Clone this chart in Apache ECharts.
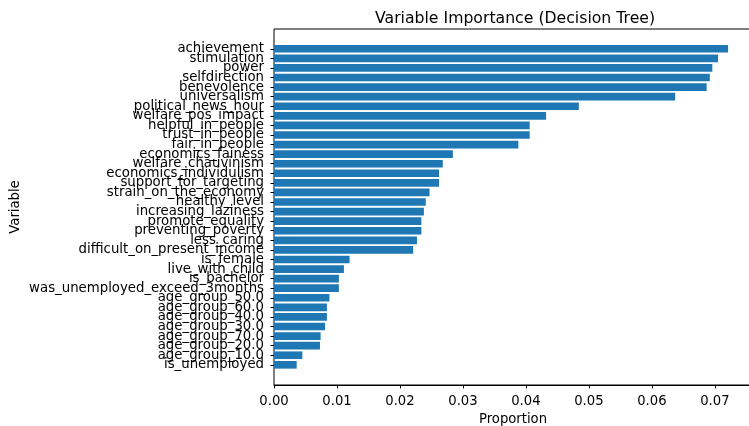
<!DOCTYPE html>
<html>
<head>
<meta charset="utf-8">
<script src="https://cdn.jsdelivr.net/npm/echarts@6/dist/echarts.min.js"></script>
<style>
  html, body { margin: 0; padding: 0; background: #fff; }
  #chart { width: 749px; height: 426px; }
</style>
</head>
<body>
<div id="chart"></div>
<script>
// feature names, top to bottom
const variables = [
  'achievement', 'stimulation', 'power', 'selfdirection', 'benevolence',
  'universalism', 'political_news_hour', 'welfare_pos_impact', 'helpful_in_people',
  'trust_in_people', 'fair_in_people', 'economics_fainess', 'welfare_chauvinism',
  'economics_individulism', 'support_for_targeting', 'strain_on_the_economy',
  'healthy_level', 'increasing_laziness', 'promote_equality', 'preventing_poverty',
  'less_caring', 'difficult_on_present_income', 'is_female', 'live_with_child',
  'is_bachelor', 'was_unemployed_exceed_3months', 'age_group_50.0', 'age_group_60.0',
  'age_group_40.0', 'age_group_30.0', 'age_group_70.0', 'age_group_20.0',
  'age_group_10.0', 'is_unemployed'
];

const importance = [
  0.0721, 0.0705, 0.0696, 0.0692, 0.0687,
  0.0637, 0.0484, 0.0432, 0.0406,
  0.0406, 0.0388, 0.0284, 0.0268,
  0.0262, 0.0262, 0.0247,
  0.0241, 0.0238, 0.0234, 0.0234,
  0.0227, 0.0221, 0.0120, 0.0111,
  0.0103, 0.0103, 0.0088, 0.0084,
  0.0084, 0.0081, 0.0074, 0.0073,
  0.0045, 0.0036
];

const xTicks = [0, 0.01, 0.02, 0.03, 0.04, 0.05, 0.06, 0.07];

const FONT = 'DejaVu Sans';
const xMax = 0.0759;

const chart = echarts.init(document.getElementById('chart'));
chart.setOption({
  animation: false,
  backgroundColor: '#fff',
  title: {
    text: 'Variable Importance (Decision Tree)',
    left: 370,
    top: 6,
    textStyle: { fontFamily: FONT, fontSize: 15.7, fontWeight: 'normal', color: '#000' }
  },
  grid: [
    // axes frame
    { left: 274, right: -3, top: 29, bottom: 41, outerBoundsMode: 'none', show: true, borderColor: '#000', borderWidth: 1, backgroundColor: 'transparent' },
    // bar area (matplotlib leaves a 5% margin above and below the bars)
    { left: 274, right: -3, top: 44, bottom: 56.4, outerBoundsMode: 'none' }
  ],
  xAxis: [
    {
      gridIndex: 0,
      type: 'value',
      min: 0,
      max: xMax,
      interval: 0.01,
      name: 'Proportion',
      nameLocation: 'middle',
      nameGap: 28,
      nameTextStyle: { fontFamily: FONT, fontSize: 13.2, color: '#000' },
      splitLine: { show: false },
      axisLine: { show: true, lineStyle: { color: '#000', width: 1 } },
      axisTick: { show: true, length: 3.5, lineStyle: { color: '#000' } },
      axisLabel: {
        fontFamily: FONT, fontSize: 13.2, color: '#000', margin: 10,
        showMaxLabel: false,
        formatter: v => (xTicks.some(t => Math.abs(t - v) < 1e-9) ? v.toFixed(2) : '')
      }
    },
    {
      gridIndex: 1,
      type: 'value',
      min: 0,
      max: xMax,
      show: false
    }
  ],
  yAxis: [
    {
      // carries only the axis title
      gridIndex: 0,
      type: 'value',
      name: 'Variable',
      nameLocation: 'middle',
      nameGap: 252,
      nameTextStyle: { fontFamily: FONT, fontSize: 13.2, color: '#000' },
      axisLine: { show: false },
      axisTick: { show: false },
      axisLabel: { show: false },
      splitLine: { show: false }
    },
    {
      gridIndex: 1,
      type: 'category',
      inverse: true,
      data: variables,
      axisLine: { show: false },
      axisTick: { show: true, alignWithLabel: true, length: 3.5, lineStyle: { color: '#000' } },
      axisLabel: { fontFamily: FONT, fontSize: 13.3, color: '#000', margin: 10, interval: 0, lineHeight: 13 }
    }
  ],
  series: [
    {
      type: 'bar',
      xAxisIndex: 1,
      yAxisIndex: 1,
      data: importance,
      barWidth: '80%',
      itemStyle: { color: '#1f77b4' }
    }
  ]
});
</script>
</body>
</html>
